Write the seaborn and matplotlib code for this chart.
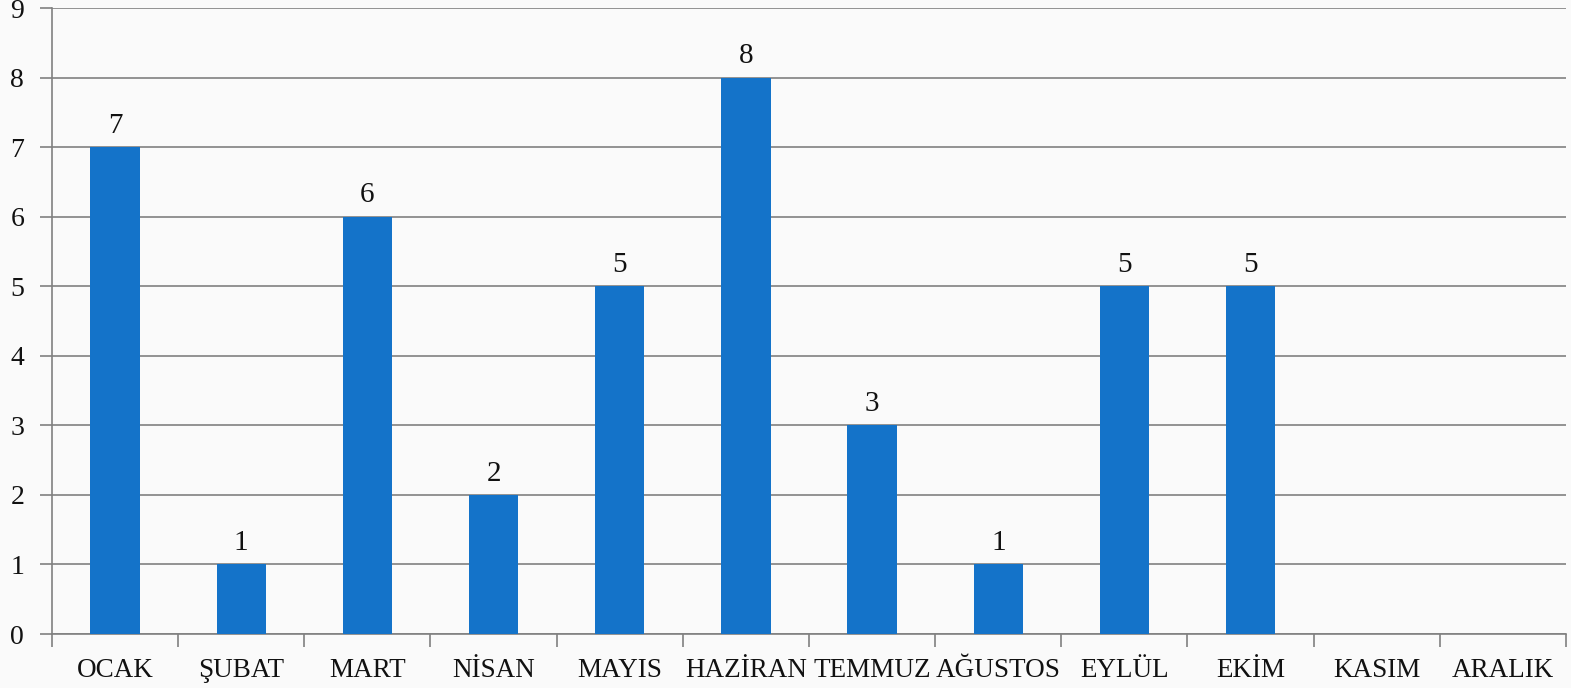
import numpy as np
import pandas as pd
import matplotlib.pyplot as plt
import seaborn as sns

# aylara göre değerler
months = ['OCAK', 'ŞUBAT', 'MART', 'NİSAN', 'MAYIS', 'HAZİRAN', 'TEMMUZ',
          'AĞUSTOS', 'EYLÜL', 'EKİM', 'KASIM', 'ARALIK']
values = [7, 1, 6, 2, 5, 8, 3, 1, 5, 5, 0, 0]
y_ticks = list(range(0, 10))

df = pd.DataFrame({'ay': months, 'deger': values})

sns.set_style('white')
plt.rcParams['font.family'] = ['Liberation Serif', 'DejaVu Serif']

bg = '#fafafa'
grid_c = '#808080'
fig = plt.figure(figsize=(15.71, 6.88), dpi=100, facecolor=bg)
ax = fig.add_axes([52 / 1571, 1 - 634 / 688, (1566 - 52) / 1571, (634 - 8) / 688])
ax.set_facecolor(bg)

sns.barplot(data=df, x='ay', y='deger', color='#1473c9', width=0.39,
            saturation=1, linewidth=0, ax=ax, zorder=3)

ax.set_ylim(0, 9)
ax.set_xlim(-0.5, len(months) - 0.5)
ax.set_yticks(y_ticks)
ax.yaxis.grid(True, color=grid_c, linewidth=1.2, zorder=0)
ax.set_axisbelow(True)

# kategori sınırlarında küçük çizgiler
ax.set_xticks(np.arange(-0.5, len(months)), minor=True)
ax.tick_params(axis='x', which='major', bottom=False, length=0, pad=17,
               labelsize=19.5, colors='#111111')
ax.tick_params(axis='x', which='minor', bottom=True, length=9, width=1.2, color=grid_c)
ax.tick_params(axis='y', left=True, length=9, width=1.2, color=grid_c, pad=11,
               labelsize=20, labelcolor='#111111')
ax.set_xlabel('')
ax.set_ylabel('')

for s in ['top', 'right']:
    ax.spines[s].set_visible(False)
for s in ['left', 'bottom']:
    ax.spines[s].set_color(grid_c)
    ax.spines[s].set_linewidth(1.2)

labels = [str(v) if v > 0 else '' for v in values]
ax.bar_label(ax.containers[0], labels=labels, padding=6, fontsize=21, color='#111111')

fig.savefig('out.png', dpi=100, facecolor=bg)
